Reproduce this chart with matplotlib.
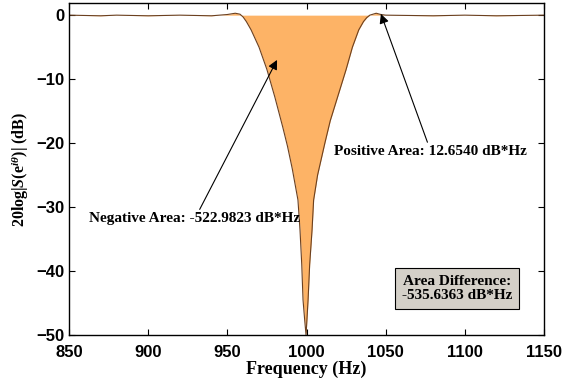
import matplotlib
matplotlib.use("Agg")
import matplotlib.pyplot as plt
import numpy as np

# frequency response
freq = [850, 870, 880, 900, 920, 940, 950, 955, 958, 960, 962, 965, 970, 975, 980, 985,
        988, 991, 994.6, 995.9, 997, 997.8, 998.8, 999.7, 1000.3, 1001, 1002,
        1003.5, 1004.5, 1007, 1011.6, 1015, 1020, 1025, 1029, 1033, 1036, 1038, 1040,
        1044, 1047, 1050, 1080, 1100, 1120, 1150]
mag_db = [0, -0.1, 0, -0.1, 0, -0.1, 0.1, 0.3, 0.15, -0.3, -1.0, -2.3, -5.0, -8.5, -12.8, -17.5,
          -20.5, -24, -28.9, -33.6, -39, -44.5, -47.5, -50, -47.5, -44.5, -39,
          -33.6, -28.9, -25, -20, -16.5, -12.5, -8.5, -5, -2.3, -1.0, -0.4, 0.0,
          0.3, 0.1, 0, -0.1, 0, -0.1, 0]

neg_text = "Negative Area: -522.9823 dB*Hz"
pos_text = "Positive Area: 12.6540 dB*Hz"
diff_text = "Area Difference:\n-535.6363 dB*Hz"

plt.rcParams['mathtext.fontset'] = 'custom'
plt.rcParams['mathtext.rm'] = 'Liberation Serif:bold'
plt.rcParams['mathtext.it'] = 'Liberation Serif:italic:bold'
plt.rcParams['mathtext.bf'] = 'Liberation Serif:bold'

fig = plt.figure(figsize=(5.67, 3.89), dpi=100)
ax = fig.add_axes([69/567, 1-335/389, 475/567, 332/389])

f = np.array(freq)
m = np.array(mag_db)
ax.fill_between(f, m, 0, color='#FDB366', linewidth=0)
ax.plot(f, m, color='#6b4020', lw=0.8)

ax.set_xlim(850, 1150)
ax.set_ylim(-50, 1.9)
ax.set_xticks(range(850, 1151, 50))
ax.set_yticks(range(-50, 1, 10))
ax.tick_params(direction='in', top=True, right=True, length=4, width=0.8)
ax.tick_params(axis='x', pad=7)
ax.tick_params(axis='y', pad=3)
for lab in ax.get_xticklabels() + ax.get_yticklabels():
    lab.set_family('Liberation Sans')
    lab.set_fontweight('bold')
    lab.set_fontsize(12)
for sp in ax.spines.values():
    sp.set_linewidth(1.0)

ax.set_xlabel('Frequency (Hz)', family='Liberation Serif', fontweight='bold',
              fontsize=13, labelpad=1)
ax.set_ylabel(r'20log|$S$(e$^{i\theta}$)| (dB)', family='Liberation Serif',
              fontweight='bold', fontsize=11.5, labelpad=4)

ax.annotate(neg_text, xy=(981.4, -7.0), xytext=(929.5, -30.8),
            family='Liberation Serif', fontweight='bold', fontsize=11,
            ha='center', va='top',
            arrowprops=dict(arrowstyle='-|>', color='black', lw=0.8,
                            mutation_scale=14, shrinkA=0, shrinkB=0))
ax.annotate(pos_text, xy=(1047, 0.2), xytext=(1078.5, -20.3),
            family='Liberation Serif', fontweight='bold', fontsize=11,
            ha='center', va='top',
            arrowprops=dict(arrowstyle='-|>', color='black', lw=0.8,
                            mutation_scale=14, shrinkA=0, shrinkB=0))
ax.text(1095, -42.7, diff_text, family='Liberation Serif', fontweight='bold',
        fontsize=11, ha='center', va='center', linespacing=1.1,
        bbox=dict(boxstyle='square,pad=0.45', fc='#d4d0c8', ec='black', lw=0.8))

fig.savefig('out.png', dpi=100)
